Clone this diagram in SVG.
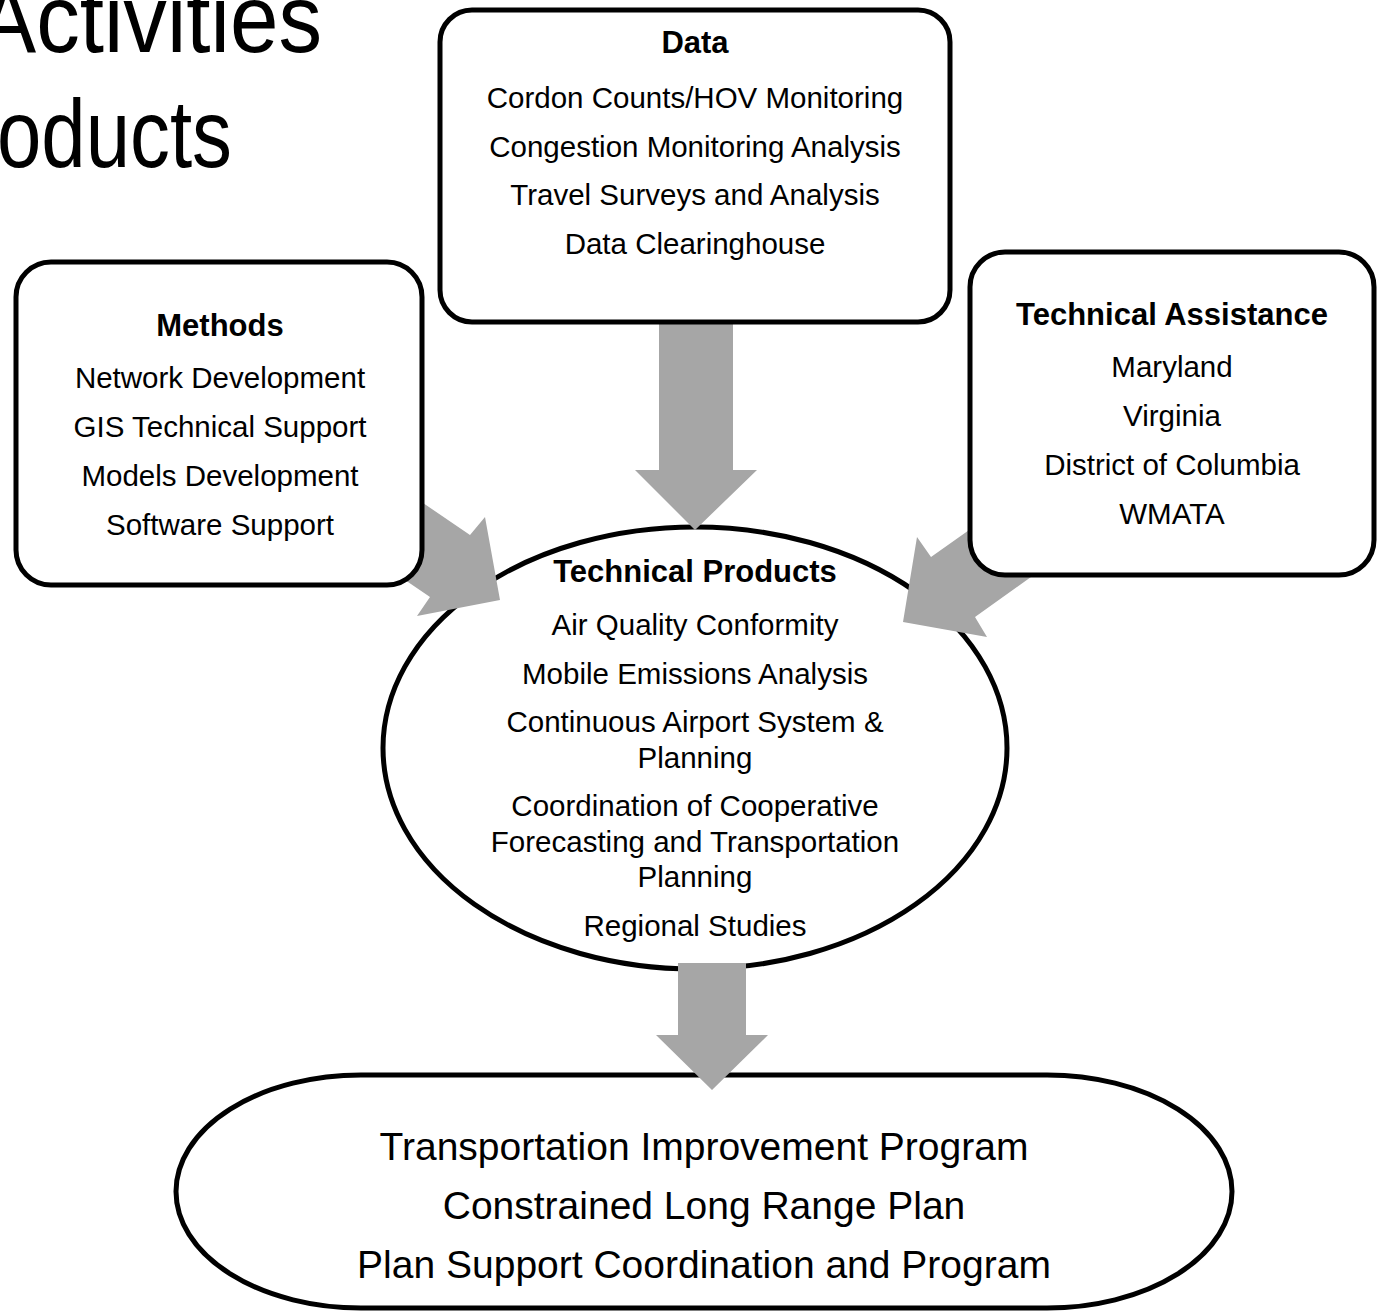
<svg xmlns="http://www.w3.org/2000/svg" width="1382" height="1314" viewBox="0 0 1382 1314">
<style>
.box{fill:#fff;stroke:#000;stroke-width:5}
.t{font-family:"Liberation Sans",Arial,sans-serif;font-size:29.5px;fill:#000;text-anchor:middle}
.h{font-family:"Liberation Sans",Arial,sans-serif;font-size:31px;font-weight:bold;fill:#000;text-anchor:middle}
.big{font-family:"Liberation Sans",Arial,sans-serif;font-size:39px;fill:#000;text-anchor:middle}
.title{font-family:"Liberation Sans",Arial,sans-serif;font-size:96px;fill:#000}
.arrow{fill:#a6a6a6;stroke:none}
</style>
<rect width="1382" height="1314" fill="#fff"/>
<g id="title">
<text class="title" x="-22" y="52" textLength="344" lengthAdjust="spacingAndGlyphs">Activities</text>
<text class="title" x="-3" y="167" textLength="235" lengthAdjust="spacingAndGlyphs">oducts</text>
</g>
<g id="plans">
<rect class="box" x="176" y="1075" width="1056" height="233" rx="185" ry="116.5" stroke-width="6"/>
<text class="big" x="704" y="1160">Transportation Improvement Program</text>
<text class="big" x="704" y="1219">Constrained Long Range Plan</text>
<text class="big" x="704" y="1278">Plan Support Coordination and Program</text>
</g>
<g id="technical-products">
<ellipse class="box" cx="695" cy="748" rx="312" ry="221"/>
<text class="h" x="695" y="582">Technical Products</text>
<text class="t" x="695" y="635">Air Quality Conformity</text>
<text class="t" x="695" y="684">Mobile Emissions Analysis</text>
<text class="t" x="695" y="732">Continuous Airport System &amp;</text>
<text class="t" x="695" y="768">Planning</text>
<text class="t" x="695" y="816">Coordination of Cooperative</text>
<text class="t" x="695" y="852">Forecasting and Transportation</text>
<text class="t" x="695" y="887">Planning</text>
<text class="t" x="695" y="936">Regional Studies</text>
</g>
<g id="connectors">
<polygon class="arrow" points="659,300 733,300 733,470 757,470 695,530 635,470 659,470"/>
<polygon class="arrow" points="404,490 470,535 485,517 500,600 417,616 430,597 364,552"/>
<polygon class="arrow" points="996,511 931,557 917,537 903,622 987,637 975,617 1056,559"/>
<polygon class="arrow" points="678,963 746,963 746,1035 768,1035 712,1090 656,1035 678,1035"/>
</g>
<g id="data">
<rect class="box" x="440" y="10" width="510" height="312" rx="32"/>
<text class="h" x="695" y="53">Data</text>
<text class="t" x="695" y="108">Cordon Counts/HOV Monitoring</text>
<text class="t" x="695" y="157">Congestion Monitoring Analysis</text>
<text class="t" x="695" y="205">Travel Surveys and Analysis</text>
<text class="t" x="695" y="254">Data Clearinghouse</text>
</g>
<g id="methods">
<rect class="box" x="16" y="262" width="406" height="323" rx="35"/>
<text class="h" x="220" y="336">Methods</text>
<text class="t" x="220" y="388">Network Development</text>
<text class="t" x="220" y="437">GIS Technical Support</text>
<text class="t" x="220" y="486">Models Development</text>
<text class="t" x="220" y="535">Software Support</text>
</g>
<g id="technical-assistance">
<rect class="box" x="970" y="252" width="404" height="323" rx="35"/>
<text class="h" x="1172" y="325">Technical Assistance</text>
<text class="t" x="1172" y="377">Maryland</text>
<text class="t" x="1172" y="426">Virginia</text>
<text class="t" x="1172" y="475">District of Columbia</text>
<text class="t" x="1172" y="524">WMATA</text>
</g>
</svg>
